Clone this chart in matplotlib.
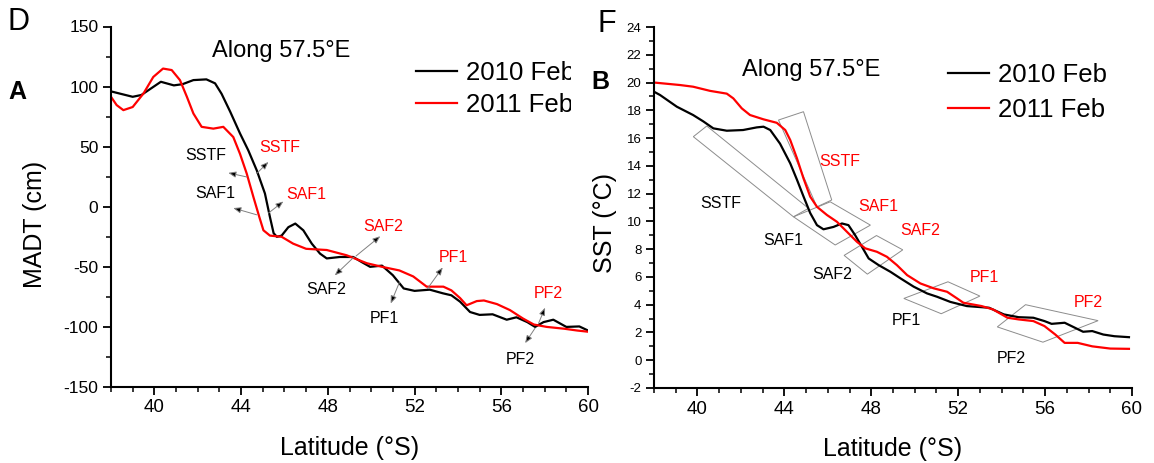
import numpy as np
import matplotlib
matplotlib.use('Agg')
import matplotlib.pyplot as plt
from matplotlib.patches import Polygon, Rectangle
from matplotlib.ticker import MultipleLocator

plt.rcParams['font.family'] = ['Liberation Sans', 'DejaVu Sans']
plt.rcParams['axes.unicode_minus'] = False

# ---------------- data ----------------
# panel A : MADT (cm) along 57.5E
lat_madt_2010 = [38.0, 39.0, 39.4, 40.3, 40.9, 41.3, 41.8, 42.4, 42.8, 43.1, 43.5, 43.95,
                 44.33, 44.72, 45.1, 45.33, 45.5, 45.65, 45.87, 46.18, 46.5, 46.87, 47.26,
                 47.64, 47.95, 48.56, 49.17, 49.56, 49.95, 50.5, 51.0, 51.5, 52.0, 52.7,
                 53.3, 53.7, 54.1, 54.56, 55.0, 55.6, 56.25, 56.7, 57.2, 57.56, 57.95,
                 58.4, 59.0, 59.6, 60.0]
madt_2010 = [96, 91.5, 93, 104, 101, 102, 105.4, 106, 102.7, 94, 79, 61,
             47, 30.4, 11, -8.5, -22, -25, -24, -17, -14, -19.6, -30.7,
             -39, -43, -41.8, -41.8, -46, -50, -49, -57, -68, -70, -69,
             -72, -73.7, -79, -87.6, -90, -89.5, -94, -92, -96, -100, -96,
             -94, -100, -99.6, -103]

lat_madt_2011 = [38.0, 38.26, 38.57, 39.0, 39.5, 39.95, 40.4, 40.8, 41.18, 41.5, 41.8,
                 42.18, 42.72, 43.18, 43.64, 43.95, 44.26, 44.57, 44.84, 45.03, 45.33,
                 45.87, 46.4, 47.0, 47.95, 48.87, 49.8, 50.5, 51.3, 51.94, 52.56, 53.33,
                 53.7, 54.1, 54.4, 54.87, 55.2, 55.8, 56.4, 57.0, 57.5, 58.1, 58.9,
                 59.5, 60.0]
madt_2011 = [91.5, 84.6, 80.4, 83, 94.3, 108, 115, 113.75, 105.4, 91.5, 77.6,
             66.5, 65, 66.5, 58, 44, 27.6, 8, -8.5, -19.6, -24,
             -25, -30.7, -35, -36, -40.4, -47, -50, -53, -58, -66.5, -66.5,
             -69.6, -76, -82, -78.5, -78, -81, -86, -93, -98, -100, -101.5,
             -103, -104]

# panel B : SST (degC) along 57.5E
lat_sst_2010 = [38.0, 38.28, 39.05, 39.8, 40.27, 40.73, 41.35, 42.1, 42.73, 43.04, 43.35,
                43.8, 44.27, 44.58, 44.88, 45.19, 45.5, 45.8, 46.26, 46.65, 46.95, 47.26,
                47.57, 47.88, 48.34, 48.88, 49.34, 49.95, 50.57, 51.03, 51.64, 52.4,
                53.42, 54.1, 54.78, 55.46, 55.97, 56.3, 56.9, 57.32, 57.75, 58.17,
                58.68, 59.19, 59.86]
sst_2010 = [19.34, 19.1, 18.26, 17.66, 17.2, 16.7, 16.53, 16.58, 16.77, 16.82, 16.58,
            15.6, 14.18, 13.0, 11.8, 10.6, 9.73, 9.43, 9.6, 9.85, 9.73, 9.0,
            8.17, 7.33, 6.85, 6.37, 5.9, 5.3, 4.81, 4.57, 4.2, 3.9,
            3.78, 3.3, 3.1, 3.06, 2.82, 2.62, 2.7, 2.38, 2.05, 2.1,
            1.85, 1.73, 1.66]

lat_sst_2011 = [38.0, 39.2, 39.8, 40.58, 41.35, 41.65, 42.04, 42.42, 43.04, 43.65, 44.04,
                44.27, 44.58, 44.88, 45.19, 45.5, 45.96, 46.42, 46.88, 47.34, 47.72,
                48.26, 48.72, 49.18, 49.65, 50.26, 50.87, 51.49, 51.95, 52.24, 53.08,
                53.6, 54.27, 54.78, 55.46, 55.97, 56.47, 56.9, 57.5, 58.17, 59.0, 59.86]
sst_2011 = [20.0, 19.82, 19.7, 19.4, 19.2, 18.86, 18.14, 17.66, 17.35, 17.1, 16.58,
            15.86, 14.54, 13.1, 11.78, 11.05, 10.46, 9.97, 9.25, 8.53, 8.06,
            7.81, 7.45, 6.85, 6.13, 5.53, 5.18, 4.93, 4.45, 4.14, 3.9,
            3.66, 3.06, 2.94, 2.82, 2.46, 1.85, 1.25, 1.25, 1.0, 0.84, 0.82]

series_labels = ['2010 Feb', '2011 Feb']
xticks = [40, 44, 48, 52, 56, 60]

# front labels: (text, x, y, colour)
madt_fronts = [('SSTF', 42.36, 42.5, 'k'), ('SSTF', 45.79, 49.6, 'r'),
               ('SAF1', 42.82, 10.8, 'k'), ('SAF1', 47.0, 10.3, 'r'),
               ('SAF2', 47.92, -68.7, 'k'), ('SAF2', 50.54, -16.3, 'r'),
               ('PF1', 50.62, -93.1, 'k'), ('PF1', 53.78, -41.9, 'r'),
               ('PF2', 56.9, -127.2, 'k'), ('PF2', 58.17, -71.8, 'r')]
# arrows: (tail, head)
madt_arrows = [((44.26, 24.8), (43.41, 28.2)), ((44.72, 27.7), (45.26, 37.3)),
               ((44.72, -6.7), (43.64, -1.1)), ((45.26, -5.3), (45.95, 4.4)),
               ((49.2, -42.0), (48.32, -57.1)), ((49.3, -41.0), (50.42, -24.5)),
               ((51.3, -63.0), (50.9, -80.5)), ((52.6, -68.0), (53.3, -50.5)),
               ((57.56, -101.0), (57.1, -113.5)), ((57.72, -97.0), (58.02, -84.0))]

sst_fronts = [('SSTF', 41.05, 11.29, 'k'), ('SSTF', 46.56, 14.32, 'r'),
              ('SAF1', 43.97, 8.6, 'k'), ('SAF1', 48.34, 11.07, 'r'),
              ('SAF2', 46.19, 6.14, 'k'), ('SAF2', 50.24, 9.32, 'r'),
              ('PF1', 49.61, 2.86, 'k'), ('PF1', 53.22, 5.95, 'r'),
              ('PF2', 54.44, 0.12, 'k'), ('PF2', 57.97, 4.19, 'r')]
sst_boxes = [[(39.81, 16.1), (40.43, 16.87), (45.11, 10.94), (44.42, 10.33)],
             [(43.73, 17.3), (44.88, 17.9), (46.18, 11.54), (45.5, 11.05)],
             [(44.42, 10.33), (46.11, 11.41), (47.96, 9.73), (46.34, 8.3)],
             [(46.75, 7.55), (48.24, 8.98), (49.45, 7.95), (47.82, 6.2)],
             [(49.5, 4.45), (51.53, 5.65), (53.0, 4.62), (51.22, 3.35)],
             [(53.8, 2.4), (55.1, 4.0), (58.44, 2.85), (55.9, 1.3)]]

# ---------------- figure ----------------
W, H = 1154, 463
fig = plt.figure(figsize=(W / 100, H / 100), dpi=100)


def px_box(l, t, r, b):
    return [l / W, 1 - b / H, (r - l) / W, (b - t) / H]


def style_axes(ax, ymaj, ymin, ysize):
    for s in ['top', 'right']:
        ax.spines[s].set_visible(False)
    for s in ['left', 'bottom']:
        ax.spines[s].set_linewidth(1.5)
    ax.set_xlim(38, 60)
    ax.set_xticks(xticks)
    ax.xaxis.set_minor_locator(MultipleLocator(1))
    ax.yaxis.set_major_locator(MultipleLocator(ymaj))
    ax.yaxis.set_minor_locator(MultipleLocator(ymin))
    ax.tick_params(which='major', direction='out', length=6, width=1.3)
    ax.tick_params(which='minor', direction='out', length=3.5, width=1.1)
    ax.tick_params(axis='x', labelsize=13.5, pad=3)
    ax.tick_params(axis='y', labelsize=ysize, pad=3)
    ax.set_xlabel('Latitude (°S)', fontsize=18)
    ax.xaxis.set_label_coords(0.5, -0.135)


# ---- panel A ----
ax1 = fig.add_axes(px_box(111, 26.5, 588, 387))
ax1.plot(lat_madt_2010, madt_2010, color='black', lw=1.6, label=series_labels[0])
ax1.plot(lat_madt_2011, madt_2011, color='red', lw=1.6, label=series_labels[1])
ax1.set_ylim(-150, 150)
style_axes(ax1, 50, 25, 12.5)
ax1.set_ylabel('MADT (cm)', fontsize=18)
ax1.yaxis.set_label_coords(-0.135, 0.45)

for txt, x, y, c in madt_fronts:
    ax1.text(x, y, txt, color=c, fontsize=11.5, ha='center', va='center')
for tail, head in madt_arrows:
    ax1.annotate('', xy=head, xytext=tail,
                 arrowprops=dict(arrowstyle='-|>,head_length=0.45,head_width=0.18',
                                 facecolor='black', edgecolor='0.5', lw=0.7,
                                 shrinkA=0, shrinkB=0))

ax1.legend(loc='upper left', bbox_to_anchor=(416 / W, 1 - 61 / H),
           bbox_transform=fig.transFigure, frameon=False, fontsize=18.5,
           handlelength=1.6, handletextpad=0.35, labelspacing=0.3,
           borderpad=0, borderaxespad=0)

# ---- panel B ----
ax2 = fig.add_axes(px_box(654, 27, 1132, 388))
ax2.plot(lat_sst_2010, sst_2010, color='black', lw=1.6, label=series_labels[0])
ax2.plot(lat_sst_2011, sst_2011, color='red', lw=1.6, label=series_labels[1])
ax2.set_ylim(-2, 24)
style_axes(ax2, 2, 1, 9.5)
ax2.set_ylabel('SST (°C)', fontsize=18)
ax2.yaxis.set_label_coords(-0.077, 0.457)

for verts in sst_boxes:
    ax2.add_patch(Polygon(verts, closed=True, fill=False, edgecolor='0.55', lw=0.7))
for txt, x, y, c in sst_fronts:
    ax2.text(x, y, txt, color=c, fontsize=11.5, ha='center', va='center')

ax2.legend(loc='upper left', bbox_to_anchor=(948 / W, 1 - 63 / H),
           bbox_transform=fig.transFigure, frameon=False, fontsize=18.5,
           handlelength=1.6, handletextpad=0.35, labelspacing=0.42,
           borderpad=0, borderaxespad=0)

# ---- panel tags / titles ----
fig.text(7 / W, 1 - 22 / H, 'D', fontsize=22, ha='left', va='center')
fig.text(8 / W, 1 - 92 / H, 'A', fontsize=18, fontweight='bold', ha='left', va='center')
fig.text(598 / W, 1 - 24 / H, 'F', fontsize=22, ha='left', va='center')
fig.text(591 / W, 1 - 82 / H, 'B', fontsize=18, fontweight='bold', ha='left', va='center')
fig.text(281 / W, 1 - 51 / H, 'Along 57.5°E', fontsize=17, ha='center', va='center')
fig.text(811 / W, 1 - 70 / H, 'Along 57.5°E', fontsize=17, ha='center', va='center')

# the left legend is cut off by the right panel in the original
fig.add_artist(Rectangle((571 / W, 1 - 125 / H), 26 / W, 70 / H,
                         transform=fig.transFigure, facecolor='white',
                         edgecolor='none', zorder=1))

fig.savefig('out.png', dpi=100)
